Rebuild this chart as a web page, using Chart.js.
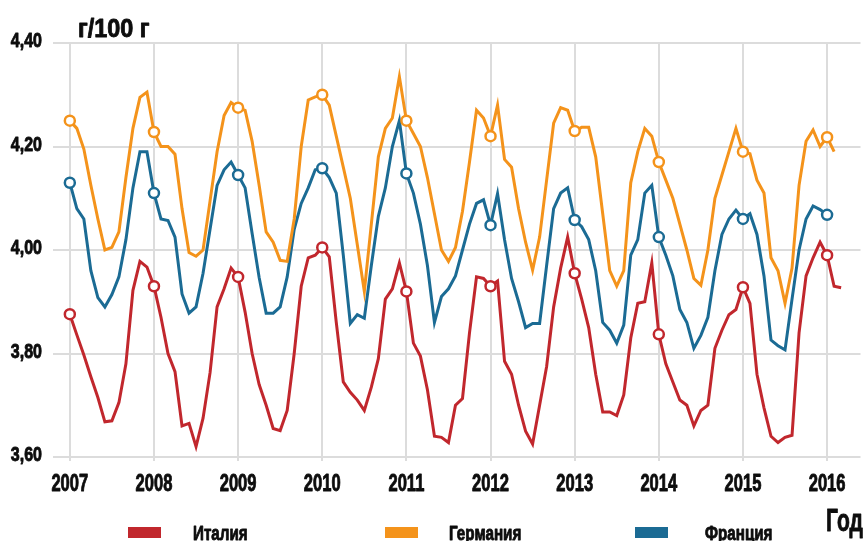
<!DOCTYPE html>
<html lang="ru">
<head>
<meta charset="utf-8">
<title>Жирность молока, г/100 г</title>
<script src="https://cdn.jsdelivr.net/npm/chart.js@4.4.1/dist/chart.umd.min.js"></script>
<style>
  html, body { margin: 0; padding: 0; background: #ffffff; }
  #wrap { position: relative; width: 868px; height: 541px; }
  canvas { display: block; }
</style>
</head>
<body>
<div id="wrap"><canvas id="chart" width="868" height="541"></canvas></div>
<script>
// Monthly values, starting January 2007
const startYear = 2007;
const yearTicks = [2007, 2008, 2009, 2010, 2011, 2012, 2013, 2014, 2015, 2016];
const valueTicks = [3.60, 3.80, 4.00, 4.20, 4.40];
const seriesNames = ['Италия', 'Германия', 'Франция'];
const seriesColors = ['#c1272d', '#f4931b', '#1b6b94'];
const unitLabel = 'г/100 г';
const axisLabel = 'Год';

const italy = [
  3.876, 3.836, 3.797, 3.755, 3.715, 3.668, 3.670, 3.705, 3.780, 3.922, 3.978, 3.967,
  3.930, 3.870, 3.800, 3.765, 3.660, 3.665, 3.620, 3.675, 3.763, 3.890, 3.925, 3.965,
  3.948, 3.880, 3.800, 3.740, 3.700, 3.655, 3.651, 3.690, 3.800, 3.930, 3.985, 3.990,
  4.005, 3.987, 3.860, 3.745, 3.725, 3.710, 3.690, 3.735, 3.790, 3.905, 3.925, 3.975,
  3.920, 3.820, 3.795, 3.730, 3.640, 3.638, 3.628, 3.700, 3.713, 3.840, 3.948, 3.945,
  3.930, 3.940, 3.785, 3.760, 3.700, 3.650, 3.625, 3.700, 3.775, 3.890, 3.965, 4.025,
  3.955, 3.905, 3.850, 3.760, 3.687, 3.687, 3.680, 3.720, 3.830, 3.897, 3.900, 3.975,
  3.837, 3.780, 3.745, 3.710, 3.700, 3.660, 3.690, 3.700, 3.810, 3.845, 3.875, 3.885,
  3.928, 3.897, 3.760, 3.695, 3.640, 3.628, 3.638, 3.642, 3.840, 3.950, 3.985, 4.015,
  3.990, 3.930, 3.927
];

const germany = [
  4.250, 4.235, 4.195, 4.125, 4.060, 4.000, 4.005, 4.035, 4.140, 4.235, 4.295, 4.305,
  4.228, 4.200, 4.200, 4.185, 4.080, 3.995, 3.988, 4.000, 4.095, 4.190, 4.260, 4.285,
  4.275, 4.270, 4.210, 4.125, 4.035, 4.015, 3.980, 3.978, 4.060, 4.200, 4.290, 4.296,
  4.300, 4.280, 4.220, 4.160, 4.100, 4.010, 3.920, 4.050, 4.180, 4.235, 4.255, 4.335,
  4.250, 4.225, 4.200, 4.140, 4.070, 4.000, 3.978, 4.005, 4.075, 4.170, 4.270, 4.255,
  4.220, 4.280, 4.175, 4.160, 4.080, 4.015, 3.961, 4.025, 4.135, 4.245, 4.275, 4.270,
  4.230, 4.237, 4.237, 4.180, 4.070, 3.960, 3.930, 3.960, 4.130, 4.190, 4.235, 4.220,
  4.170, 4.135, 4.100, 4.050, 4.000, 3.945, 3.932, 4.000, 4.100, 4.145, 4.190, 4.235,
  4.190, 4.186, 4.135, 4.110, 3.985, 3.960, 3.897, 3.965, 4.125, 4.210, 4.232, 4.200,
  4.218, 4.190
];

const france = [
  4.130, 4.080, 4.060, 3.960, 3.908, 3.890, 3.914, 3.948, 4.020, 4.120, 4.190, 4.190,
  4.110, 4.060, 4.057, 4.025, 3.915, 3.878, 3.890, 3.955, 4.040, 4.125, 4.155, 4.170,
  4.145, 4.120, 4.032, 3.947, 3.878, 3.878, 3.890, 3.948, 4.040, 4.090, 4.120, 4.155,
  4.158, 4.140, 4.110, 3.990, 3.858, 3.875, 3.868, 3.970, 4.065, 4.120, 4.200, 4.250,
  4.148, 4.110, 4.050, 3.970, 3.860, 3.910, 3.925, 3.950, 4.000, 4.050, 4.090, 4.097,
  4.048, 4.109, 4.020, 3.945, 3.900, 3.850, 3.858, 3.858, 3.970, 4.080, 4.110, 4.120,
  4.058, 4.045, 4.020, 3.960, 3.860, 3.845, 3.820, 3.855, 3.990, 4.020, 4.110, 4.125,
  4.025, 3.990, 3.950, 3.885, 3.860, 3.810, 3.835, 3.870, 3.960, 4.030, 4.060, 4.077,
  4.060, 4.070, 4.030, 3.950, 3.826, 3.815, 3.807, 3.905, 4.000, 4.060, 4.085, 4.078,
  4.068
];

const FONT = "'Liberation Sans', Arial, sans-serif";
const TEXT = '#0d0d0d';
const GRID = '#dcdcdc';

// monthly values -> {x: fractional year, y}
function toPoints(values) {
  return values.map((v, i) => ({ x: startYear + i / 12, y: v }));
}

function makeDataset(name, values, color) {
  return {
    label: name,
    data: toPoints(values),
    borderColor: color,
    backgroundColor: '#ffffff',
    borderWidth: 3,
    tension: 0,
    fill: false,
    // circles mark the January value of every year
    pointRadius: ctx => (ctx.dataIndex % 12 === 0 ? 5 : 0),
    pointHoverRadius: ctx => (ctx.dataIndex % 12 === 0 ? 5 : 0),
    pointBorderWidth: 2.5,
    pointBorderColor: color,
    pointBackgroundColor: '#ffffff'
  };
}

// heavy condensed lettering: a bold face squeezed horizontally, with a thin outline
function drawNarrow(ctx, text, x, y, align, size, squeeze) {
  ctx.save();
  ctx.font = 'bold ' + size + 'px ' + FONT;
  ctx.textAlign = align;
  ctx.textBaseline = 'alphabetic';
  ctx.translate(x, y);
  ctx.scale(squeeze, 1);
  ctx.fillStyle = TEXT;
  ctx.strokeStyle = TEXT;
  ctx.lineWidth = 0.9;
  ctx.lineJoin = 'round';
  ctx.fillText(text, 0, 0);
  ctx.strokeText(text, 0, 0);
  ctx.restore();
}

// tick labels, headings and the bottom legend
const lettering = {
  id: 'lettering',
  afterDraw(chart) {
    const ctx = chart.ctx;
    const xs = chart.scales.x;
    const ys = chart.scales.y;
    ctx.save();

    xs.ticks.forEach(t => {
      drawNarrow(ctx, String(t.value), xs.getPixelForValue(t.value), 491, 'center', 23, 0.72);
    });
    ys.ticks.forEach(t => {
      const label = t.value.toFixed(2).replace('.', ',');
      drawNarrow(ctx, label, 42, ys.getPixelForValue(t.value) + 4, 'right', 20, 0.8);
    });

    drawNarrow(ctx, unitLabel, 78, 37, 'left', 26, 0.9);
    drawNarrow(ctx, axisLabel, 826, 531, 'left', 31, 0.68);

    const boxX = [128, 385, 635];
    const textX = [193, 449, 705];
    chart.data.datasets.forEach((ds, i) => {
      ctx.fillStyle = ds.borderColor;
      ctx.fillRect(boxX[i], 527, 33, 11);
      drawNarrow(ctx, ds.label, textX[i], 540, 'left', 20, 0.76);
    });
    ctx.restore();
  }
};

new Chart(document.getElementById('chart'), {
  type: 'line',
  data: {
    datasets: [
      makeDataset(seriesNames[0], italy, seriesColors[0]),
      makeDataset(seriesNames[1], germany, seriesColors[1]),
      makeDataset(seriesNames[2], france, seriesColors[2])
    ]
  },
  options: {
    responsive: false,
    animation: false,
    events: [],
    layout: { padding: { top: 43, left: 0, right: 0, bottom: 0 } },
    plugins: {
      legend: { display: false },
      title: { display: false },
      tooltip: { enabled: false }
    },
    scales: {
      x: {
        type: 'linear',
        min: 2006.8,
        max: 2016.397,
        afterBuildTicks: scale => { scale.ticks = yearTicks.map(v => ({ value: v })); },
        afterFit: scale => { scale.height = 84; },
        border: { display: false },
        grid: { color: GRID, lineWidth: 2, tickLength: 4, tickColor: GRID },
        ticks: { display: false }
      },
      y: {
        min: valueTicks[0],
        max: valueTicks[valueTicks.length - 1],
        afterBuildTicks: scale => { scale.ticks = valueTicks.map(v => ({ value: v })); },
        afterFit: scale => { scale.width = 53; },
        border: { display: false },
        grid: { color: GRID, lineWidth: 2, drawTicks: false },
        ticks: { display: false }
      }
    }
  },
  plugins: [lettering]
});
</script>
</body>
</html>
